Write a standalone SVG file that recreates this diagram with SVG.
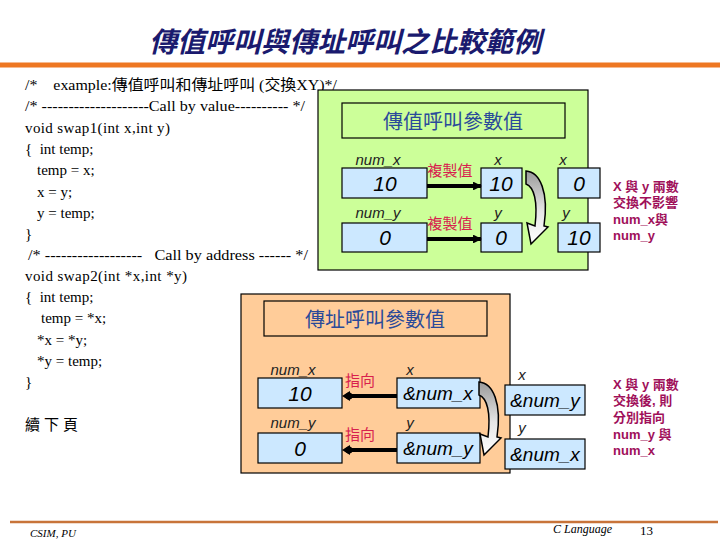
<svg xmlns="http://www.w3.org/2000/svg" width="720" height="540" viewBox="0 0 720 540">
<defs>
<style>
.code{font-family:"Liberation Serif","Noto Sans CJK TC",serif;font-size:15px;fill:#000}
.lbl{font-family:"Liberation Sans","Noto Sans CJK TC",sans-serif;font-size:15px;font-style:italic;fill:#222}
.val{font-family:"Liberation Sans",sans-serif;font-size:21px;font-style:italic;fill:#000;text-anchor:middle}
.addr{font-family:"Liberation Sans",sans-serif;font-size:19px;font-style:italic;fill:#000;text-anchor:middle}
.vb{fill:#cce8ff;stroke:#000;stroke-width:1.2}
.hdr{fill:none;stroke:#000;stroke-width:1.2}
.htxt{font-family:"Noto Sans CJK TC",sans-serif;font-size:20px;fill:#2a4a9a;text-anchor:middle}
.red{font-family:"Noto Sans CJK TC",sans-serif;font-size:15px;fill:#d8204e}
.note{font-family:"Liberation Sans","Noto Sans CJK TC",sans-serif;font-size:13px;font-weight:bold;fill:#a0105a}
.conn{stroke:#000;stroke-width:4;fill:none}
.foot{font-family:"Liberation Serif",serif;font-style:italic;fill:#000}
</style>
<linearGradient id="cg" x1="0" y1="0" x2="0" y2="1">
<stop offset="0" stop-color="#9a9a9a"/>
<stop offset="0.55" stop-color="#e6e6e6"/>
<stop offset="1" stop-color="#ffffff"/>
</linearGradient>
<path id="curve" d="M526,171 C540,172 549,192 544,226 L548,227 L531,244 L527,223 L535,226 C538,201 534,187 526,184 Z" fill="url(#cg)" stroke="#000" stroke-width="1.5"/>
<marker id="ar" viewBox="0 0 10 10" refX="9" refY="5" markerWidth="2.2" markerHeight="2.2" orient="auto">
<path d="M0,0 L10,5 L0,10 Z" fill="#000"/>
</marker>
</defs>

<rect width="720" height="540" fill="#fff"/>

<!-- title -->
<text x="345" y="52" font-family="'Noto Sans CJK TC',sans-serif" font-size="28" font-style="italic" font-weight="bold" fill="#1a1a6e" text-anchor="middle">傳值呼叫與傳址呼叫之比較範例</text>
<line x1="0" y1="65" x2="720" y2="65" stroke="#ee7722" stroke-width="5"/>

<!-- code -->
<g id="code" class="code">
<text x="25" y="90" textLength="312" lengthAdjust="spacingAndGlyphs">/*&#160;&#160;&#160;&#160;example:傳值呼叫和傳址呼叫 (交換XY)*/</text>
<text x="25" y="111" textLength="280" lengthAdjust="spacingAndGlyphs">/* --------------------Call by value---------- */</text>
<text x="25" y="133" textLength="145" lengthAdjust="spacing">void swap1(int x,int y)</text>
<text x="25" y="154">{&#160;&#160;int temp;</text>
<text x="37" y="175">temp = x;</text>
<text x="37" y="197">x = y;</text>
<text x="37" y="218">y = temp;</text>
<text x="25" y="239">}</text>
<text x="28" y="260" textLength="280" lengthAdjust="spacingAndGlyphs">/* ------------------&#160;&#160;&#160;Call by address ------ */</text>
<text x="25" y="281" textLength="162" lengthAdjust="spacing">void swap2(int *x,int *y)</text>
<text x="25" y="302">{&#160;&#160;int temp;</text>
<text x="41" y="323">temp = *x;</text>
<text x="37" y="345">*x = *y;</text>
<text x="37" y="366">*y = temp;</text>
<text x="25" y="387">}</text>
<text x="25" y="430" letter-spacing="4">續下頁</text>
</g>

<!-- call by value panel -->
<g id="value-panel">
<rect x="318" y="90" width="270" height="180" fill="#ccff99" stroke="#000" stroke-width="1.2"/>
<rect class="hdr" x="342" y="103" width="223" height="35"/>
<text class="htxt" x="453" y="129">傳值呼叫參數值</text>
</g>
<g id="v-num_x"><text class="lbl" x="378" y="165" text-anchor="middle">num_x</text><rect class="vb" x="342" y="168" width="85" height="30"/><text class="val" x="385" y="191">10</text></g>
<g id="v-x"><text class="lbl" x="498" y="165" text-anchor="middle">x</text><rect class="vb" x="481" y="168" width="41" height="30"/><text class="val" x="501" y="191">10</text></g>
<g id="v-x2"><text class="lbl" x="563" y="165" text-anchor="middle">x</text><rect class="vb" x="558" y="168" width="42" height="30"/><text class="val" x="579" y="191">0</text></g>
<g id="v-num_y"><text class="lbl" x="378" y="218" text-anchor="middle">num_y</text><rect class="vb" x="342" y="223" width="85" height="29"/><text class="val" x="385" y="245">0</text></g>
<g id="v-y"><text class="lbl" x="498" y="218" text-anchor="middle">y</text><rect class="vb" x="481" y="223" width="41" height="29"/><text class="val" x="501" y="245">0</text></g>
<g id="v-y2"><text class="lbl" x="566" y="218" text-anchor="middle">y</text><rect class="vb" x="558" y="223" width="42" height="29"/><text class="val" x="579" y="245">10</text></g>

<!-- call by address panel -->
<g id="addr-panel">
<rect x="241" y="294" width="269" height="179" fill="#ffcc99" stroke="#000" stroke-width="1.2"/>
<rect class="hdr" x="264" y="301" width="223" height="35"/>
<text class="htxt" x="375" y="327">傳址呼叫參數值</text>
</g>
<g id="a-num_x"><text class="lbl" x="293" y="375" text-anchor="middle">num_x</text><rect class="vb" x="258" y="378" width="84" height="30"/><text class="val" x="300" y="401">10</text></g>
<g id="a-x"><text class="lbl" x="410" y="375" text-anchor="middle">x</text><rect class="vb" x="397" y="378" width="83" height="30"/><text class="addr" x="438" y="400">&amp;num_x</text></g>
<g id="a-x2"><text class="lbl" x="522" y="380" text-anchor="middle">x</text><rect class="vb" x="505" y="385" width="80" height="30"/><text class="addr" x="545" y="407">&amp;num_y</text></g>
<g id="a-num_y"><text class="lbl" x="293" y="428" text-anchor="middle">num_y</text><rect class="vb" x="258" y="433" width="84" height="30"/><text class="val" x="300" y="456">0</text></g>
<g id="a-y"><text class="lbl" x="410" y="428" text-anchor="middle">y</text><rect class="vb" x="397" y="433" width="83" height="30"/><text class="addr" x="438" y="455">&amp;num_y</text></g>
<g id="a-y2"><text class="lbl" x="522" y="433" text-anchor="middle">y</text><rect class="vb" x="505" y="439" width="80" height="30"/><text class="addr" x="545" y="461">&amp;num_x</text></g>

<!-- connectors -->
<g id="connectors">
<line class="conn" x1="427" y1="186" x2="481" y2="186" marker-end="url(#ar)"/>
<line class="conn" x1="427" y1="239" x2="481" y2="239" marker-end="url(#ar)"/>
<text class="red" x="450" y="176" text-anchor="middle">複製值</text>
<text class="red" x="450" y="229" text-anchor="middle">複製值</text>
<use href="#curve"/>
<line class="conn" x1="397" y1="396" x2="348" y2="396"/>
<path d="M350,391 L342,396 L350,401 Z" fill="#000"/><circle cx="349" cy="396" r="3.5" fill="#000"/>
<line class="conn" x1="397" y1="450" x2="348" y2="450"/>
<path d="M350,445 L342,450 L350,455 Z" fill="#000"/><circle cx="349" cy="450" r="3.5" fill="#000"/>
<text class="red" x="360" y="386" text-anchor="middle">指向</text>
<text class="red" x="360" y="440" text-anchor="middle">指向</text>
<use href="#curve" transform="translate(-47,211)"/>
</g>

<!-- notes -->
<g id="note1" class="note">
<text x="613" y="191">X 與 y 兩數</text>
<text x="613" y="207">交換不影響</text>
<text x="613" y="224">num_x與</text>
<text x="613" y="240">num_y</text>
</g>
<g id="note2" class="note">
<text x="613" y="389">X 與 y 兩數</text>
<text x="613" y="405">交換後, 則</text>
<text x="613" y="422">分別指向</text>
<text x="613" y="439">num_y 與</text>
<text x="613" y="455">num_x</text>
</g>

<!-- footer -->
<line x1="10" y1="522" x2="718" y2="522" stroke="#c8743a" stroke-width="2.5"/>
<text class="foot" x="30" y="537" font-size="11">CSIM, PU</text>
<text class="foot" x="553" y="533" font-size="12">C Language</text>
<text x="640" y="535" font-family="'Liberation Serif',serif" font-size="13" fill="#000">13</text>
</svg>
